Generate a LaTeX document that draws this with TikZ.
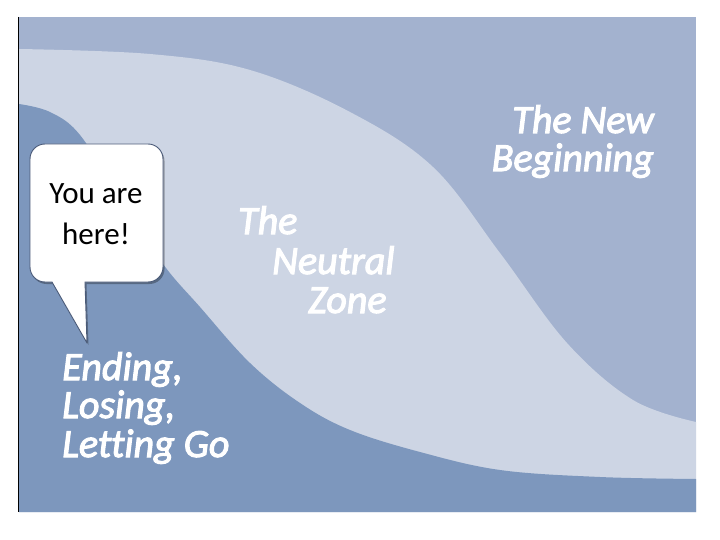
\documentclass[tikz,border=0pt]{standalone}
\usepackage{fontspec}
\newfontfamily\carlito{Carlito}[Ligatures=NoCommon]
\newfontfamily\carlitosemi{Carlito Italic}[Ligatures=NoCommon, FakeBold=2.6]
\definecolor{topband}{HTML}{A3B2CF}
\definecolor{midband}{HTML}{CDD5E4}
\definecolor{lowband}{HTML}{7D97BD}
\definecolor{bubbleline}{HTML}{4A5A78}
\tikzset{
  bigtext/.style={inner sep=0pt, text=white, font=\carlitosemi\fontsize{40}{40}\selectfont},
  bubbletext/.style={inner sep=0pt, text=black, font=\carlito\fontsize{31}{40}\selectfont},
  bubblebox/.style={fill=white, draw=bubbleline, line width=0.9pt, line join=round}
}
\newcommand\mybubblepath{(45,144) -- (148,144) .. controls (156.3,144) and (163,150.7) .. (163,159) -- (163,267) .. controls (163,275.3) and (156.3,282) .. (148,282) -- (85,282) -- (87,343) -- (52,282) -- (45,282) .. controls (36.7,282) and (30,275.3) .. (30,267) -- (30,159) .. controls (30,150.7) and (36.7,144) .. (45,144) -- cycle}
\begin{document}
\begin{tikzpicture}[x=1pt,y=-1pt]
\useasboundingbox (0,0) rectangle (720,540);
\fill[white] (0,0) rectangle (720,540);
\fill[topband] (19,17) rectangle (696,512);
\fill[midband] plot[smooth, tension=0.6] coordinates {(19,49) (150,54) (250,70) (350,112) (433,167) (500,253) (567,343) (633,400) (696,422)} -- (696,512) -- (19,512) -- cycle;
\fill[lowband] plot[smooth, tension=0.6] coordinates {(19,104) (50,112) (80,135) (120,198) (163,264) (200,307) (250,363) (300,403) (350,430) (420,452) (500,470) (600,477) (696,479)} -- (696,512) -- (19,512) -- cycle;
\draw[black, line width=1.2pt] (18.4,17) -- (18.4,512);
% speech bubble
\fill[black, opacity=0.3, shift={(1.5,2)}] \mybubblepath;
\draw[bubblebox] \mybubblepath;
\node[bubbletext, anchor=base] (you1) at (96,204) {You are};
\node[bubbletext, anchor=base] (you2) at (96,244) {here!};
% labels
\node[bigtext, anchor=base east] (new1) at (654,133) {The New};
\node[bigtext, anchor=base east] (new2) at (654,171) {Beginning};
\node[bigtext, anchor=base west] (neu1) at (238,234) {The};
\node[bigtext, anchor=base west] (neu2) at (272,274) {Neutral};
\node[bigtext, anchor=base west] (neu3) at (308,313) {Zone};
\node[bigtext, anchor=base west] (end1) at (62,380) {Ending,};
\node[bigtext, anchor=base west] (end2) at (62,418) {Losing,};
\node[bigtext, anchor=base west] (end3) at (62,457) {Letting Go};
\end{tikzpicture}
\end{document}
